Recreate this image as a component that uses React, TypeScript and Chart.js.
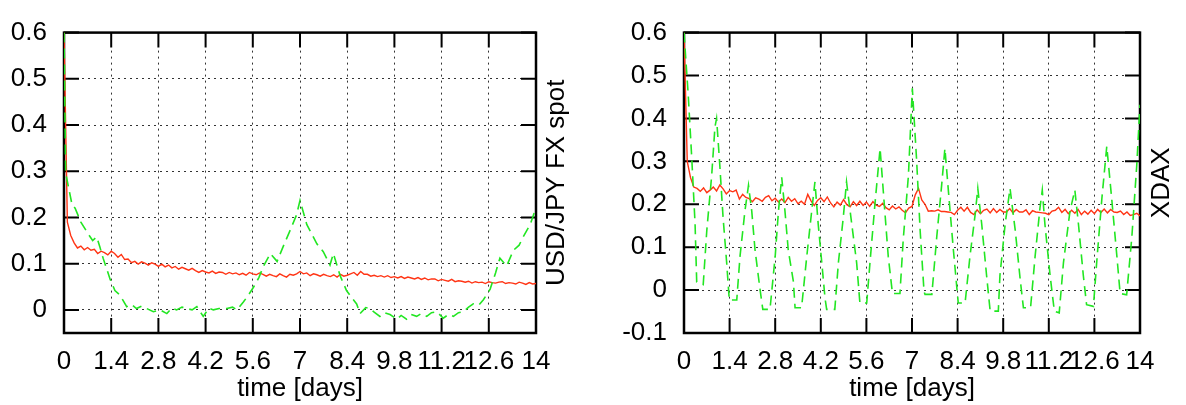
import React, { useEffect, useRef } from "react";
import { Chart, registerables } from "chart.js";

Chart.register(...registerables);

// ---------- data ----------
const RED_STEP = 0.1; // sampling step (days) of the red series
const xTickValues = [0, 1.4, 2.8, 4.2, 5.6, 7, 8.4, 9.8, 11.2, 12.6, 14];
const yTicksUsdJpy = [0, 0.1, 0.2, 0.3, 0.4, 0.5, 0.6];
const yTicksXdax = [-0.1, 0, 0.1, 0.2, 0.3, 0.4, 0.5, 0.6];

const usdJpyRed = [
  0.600, 0.190, 0.161, 0.145, 0.134, 0.138, 0.130, 0.135, 0.129, 0.131,
  0.122, 0.127, 0.124, 0.119, 0.127, 0.122, 0.114, 0.120, 0.109, 0.110,
  0.102, 0.105, 0.099, 0.104, 0.101, 0.097, 0.102, 0.099, 0.094, 0.099,
  0.093, 0.097, 0.091, 0.094, 0.088, 0.092, 0.089, 0.086, 0.090, 0.085,
  0.081, 0.085, 0.082, 0.080, 0.084, 0.079, 0.082, 0.081, 0.077, 0.081,
  0.078, 0.080, 0.076, 0.079, 0.075, 0.081, 0.078, 0.076, 0.080, 0.077,
  0.073, 0.077, 0.074, 0.072, 0.078, 0.074, 0.071, 0.077, 0.075, 0.078,
  0.083, 0.078, 0.080, 0.074, 0.078, 0.076, 0.073, 0.077, 0.074, 0.072,
  0.076, 0.071, 0.077, 0.073, 0.075, 0.078, 0.081, 0.075, 0.083, 0.077,
  0.077, 0.073, 0.075, 0.072, 0.074, 0.071, 0.074, 0.070, 0.072, 0.069,
  0.072, 0.068, 0.071, 0.069, 0.067, 0.070, 0.066, 0.069, 0.065, 0.067,
  0.067, 0.063, 0.066, 0.064, 0.062, 0.066, 0.061, 0.063, 0.062, 0.060,
  0.062, 0.058, 0.061, 0.059, 0.060, 0.057, 0.061, 0.059, 0.058, 0.060,
  0.061, 0.057, 0.059, 0.058, 0.056, 0.060, 0.058, 0.055, 0.059, 0.056,
  0.057,
];

const usdJpyGreenX = [
  0, 0.05, 0.24, 0.33, 0.5, 0.72, 0.85, 0.97, 1.06, 1.16,
  1.37, 1.51, 1.66, 1.86, 2.0, 2.15, 2.3, 2.45, 2.65, 2.85,
  3.05, 3.2, 3.34, 3.5, 3.64, 3.8, 3.94, 4.13, 4.3, 4.43,
  4.6, 4.83, 5.0, 5.13, 5.32, 5.45, 5.62, 5.78, 5.92, 6.12,
  6.32, 6.5, 6.7, 6.9, 7.0, 7.2, 7.5, 7.69, 7.89, 7.99,
  8.19, 8.38, 8.55, 8.68, 8.78, 8.95, 9.08, 9.2, 9.37, 9.5,
  9.67, 9.87, 10.0, 10.16, 10.3, 10.46, 10.6, 10.76, 10.9, 11.06,
  11.25, 11.4, 11.55, 11.7, 11.85, 12.0, 12.14, 12.3, 12.44, 12.64,
  12.8, 12.93, 13.13, 13.33, 13.5, 13.62, 13.83, 14.0,
];
const usdJpyGreenY = [
  0.6, 0.296, 0.227, 0.22, 0.19, 0.164, 0.15, 0.158, 0.137, 0.112,
  0.066, 0.042, 0.032, 0.007, 0.012, 0.003, 0.008, 0.003, -0.004, 0.0,
  -0.008, 0.004, 0.0, 0.006, 0.003, 0.0, 0.007, -0.014, 0.004, 0.0,
  0.003, 0.003, 0.006, 0.0, 0.017, 0.03, 0.049, 0.07, 0.095, 0.122,
  0.105, 0.137, 0.171, 0.206, 0.237, 0.185, 0.143, 0.126, 0.097, 0.122,
  0.074, 0.042, 0.025, 0.013, -0.008, 0.005, 0.003, -0.005, -0.014, -0.006,
  -0.01, -0.02, -0.012, -0.02, -0.01, -0.014, -0.008, -0.014, -0.006, -0.004,
  -0.018, -0.01, -0.014, -0.006, -0.004, 0.006, 0.013, 0.01, 0.022, 0.045,
  0.08, 0.112, 0.095, 0.129, 0.14, 0.158, 0.185, 0.221,
];

const xdaxRed = [
  0.600, 0.300, 0.262, 0.240, 0.237, 0.230, 0.238, 0.227, 0.233, 0.240,
  0.231, 0.245, 0.236, 0.224, 0.232, 0.229, 0.233, 0.212, 0.223, 0.216,
  0.213, 0.206, 0.215, 0.212, 0.207, 0.216, 0.220, 0.208, 0.214, 0.205,
  0.212, 0.204, 0.216, 0.207, 0.213, 0.201, 0.207, 0.200, 0.223, 0.208,
  0.197, 0.209, 0.215, 0.206, 0.217, 0.203, 0.194, 0.205, 0.198, 0.211,
  0.199, 0.194, 0.206, 0.197, 0.207, 0.197, 0.205, 0.195, 0.206, 0.198,
  0.195, 0.202, 0.192, 0.187, 0.196, 0.189, 0.194, 0.186, 0.180, 0.191,
  0.195, 0.222, 0.237, 0.210, 0.200, 0.184, 0.185, 0.184, 0.187, 0.183,
  0.183, 0.182, 0.181, 0.176, 0.186, 0.193, 0.184, 0.193, 0.181, 0.176,
  0.187, 0.178, 0.186, 0.189, 0.180, 0.190, 0.181, 0.188, 0.182, 0.182,
  0.190, 0.180, 0.188, 0.182, 0.182, 0.187, 0.176, 0.185, 0.182, 0.181,
  0.180, 0.179, 0.176, 0.184, 0.186, 0.193, 0.181, 0.188, 0.178, 0.186,
  0.179, 0.188, 0.176, 0.184, 0.177, 0.186, 0.178, 0.188, 0.181, 0.189,
  0.180, 0.188, 0.182, 0.181, 0.184, 0.176, 0.182, 0.174, 0.176, 0.179,
  0.173,
];

const xdaxGreenX = [
  0, 0.13, 0.24, 0.34, 0.39, 0.59, 0.70, 0.85, 0.95, 1.0,
  1.1, 1.2, 1.31, 1.39, 1.62, 1.72, 1.87, 1.98, 2.08, 2.18,
  2.33, 2.42, 2.64, 2.8, 2.9, 3.0, 3.1, 3.2, 3.36, 3.41,
  3.61, 3.77, 3.92, 4.02, 4.12, 4.23, 4.33, 4.38, 4.63, 4.74,
  4.89, 4.99, 5.15, 5.30, 5.40, 5.61, 5.71, 5.87, 6.02, 6.12,
  6.27, 6.40, 6.63, 6.73, 6.89, 7.01, 7.14, 7.25, 7.37, 7.40,
  7.61, 7.76, 7.91, 8.01, 8.12, 8.27, 8.37, 8.42, 8.63, 8.78,
  8.94, 9.02, 9.14, 9.29, 9.40, 9.65, 9.70, 9.86, 10.01, 10.17,
  10.32, 10.42, 10.64, 10.78, 10.93, 11.0, 11.08, 11.24, 11.37, 11.52,
  11.65, 11.85, 12.0, 12.11, 12.26, 12.36, 12.57, 12.67, 12.83, 12.98,
  13.13, 13.29, 13.39, 13.59, 13.75, 13.90, 14.0,
];
const xdaxGreenY = [
  0.6, 0.455, 0.305, 0.154, 0.019, 0.013, 0.139, 0.267, 0.38, 0.40,
  0.29, 0.169, 0.064, -0.023, -0.023, 0.079, 0.184, 0.244, 0.184, 0.094,
  0.004, -0.045, -0.045, 0.079, 0.184, 0.263, 0.184, 0.094, 0.019, -0.041,
  -0.041, 0.079, 0.184, 0.252, 0.154, 0.064, -0.019, -0.045, -0.045, 0.064,
  0.169, 0.252, 0.154, 0.064, -0.03, -0.03, 0.064, 0.207, 0.33, 0.229,
  0.079, -0.008, -0.008, 0.117, 0.267, 0.47, 0.305, 0.139, -0.004, -0.01,
  -0.01, 0.124, 0.244, 0.33, 0.229, 0.094, 0.011, -0.03, -0.03, 0.079,
  0.177, 0.237, 0.154, 0.034, -0.049, -0.049, 0.034, 0.154, 0.237, 0.139,
  0.026, -0.041, -0.041, 0.079, 0.192, 0.233, 0.154, 0.034, -0.049, -0.053,
  0.064, 0.184, 0.233, 0.154, 0.034, -0.034, -0.038, 0.064, 0.214, 0.335,
  0.214, 0.079, -0.008, -0.011, 0.124, 0.29, 0.432,
];

// ---------- styling ----------
const FONT = '"Liberation Sans", Arial, Helvetica, sans-serif';
const FONT_SIZE = 26;
const RED = "#ff3414";
const GREEN = "#22e622";
const GRID = "rgba(0,0,0,0.8)";

const framePlugin = {
  id: "frame",
  beforeDatasetsDraw(chart: any, _args: any, opts: any) {
    const { ctx, chartArea: a, scales } = chart;
    ctx.save();
    ctx.strokeStyle = "#000";
    ctx.lineWidth = 2;
    const L = 15;
    ctx.beginPath();
    for (const v of opts.xTicks) {
      const px = scales.x.getPixelForValue(v);
      ctx.moveTo(px, a.bottom);
      ctx.lineTo(px, a.bottom - L);
      ctx.moveTo(px, a.top);
      ctx.lineTo(px, a.top + L);
    }
    for (const v of opts.yTicks) {
      const py = scales.y.getPixelForValue(v);
      ctx.moveTo(a.left, py);
      ctx.lineTo(a.left + L, py);
      ctx.moveTo(a.right, py);
      ctx.lineTo(a.right - L, py);
    }
    ctx.stroke();
    ctx.lineWidth = 2.5;
    ctx.strokeRect(a.left, a.top, a.right - a.left, a.bottom - a.top);
    ctx.restore();
  },
  afterDraw(chart: any, _args: any, opts: any) {
    const { ctx, chartArea: a } = chart;
    ctx.save();
    ctx.translate(opts.titleX, (a.top + a.bottom) / 2);
    ctx.rotate(-Math.PI / 2);
    ctx.font = `${FONT_SIZE}px ${FONT}`;
    ctx.fillStyle = "#000";
    ctx.textAlign = "center";
    ctx.textBaseline = "middle";
    ctx.fillText(opts.title, 0, 0);
    ctx.restore();
  },
};

const fmt = (v: number) => (Math.abs(v) < 1e-9 ? "0" : String(+v.toFixed(1)));

type PanelProps = {
  left: number;
  red: number[];
  greenX: number[];
  greenY: number[];
  yMin: number;
  yMax: number;
  yTicks: number[];
  title: string;
  axisWidth: number;
  padRight: number;
  titleX: number;
};

function Panel(p: PanelProps) {
  const ref = useRef<HTMLCanvasElement>(null);
  useEffect(() => {
    if (!ref.current) return;
    const redData = p.red.map((y, i) => ({ x: +(i * RED_STEP).toFixed(2), y }));
    const greenData = p.greenX.map((x, i) => ({ x, y: p.greenY[i] }));
    const chart = new Chart(ref.current, {
      type: "line",
      data: {
        datasets: [
          {
            data: greenData,
            borderColor: GREEN,
            borderWidth: 1.6,
            borderDash: [10, 6],
            pointRadius: 0,
            tension: 0,
            fill: false,
          },
          {
            data: redData,
            borderColor: RED,
            borderWidth: 1.4,
            pointRadius: 0,
            tension: 0,
            fill: false,
          },
        ],
      },
      options: {
        animation: false,
        responsive: false,
        events: [],
        layout: { padding: { top: 22, right: p.padRight, left: 0, bottom: 0 } },
        plugins: {
          legend: { display: false },
          tooltip: { enabled: false },
          frame: { xTicks: xTickValues, yTicks: p.yTicks, title: p.title, titleX: p.titleX },
        } as any,
        scales: {
          x: {
            type: "linear",
            min: 0,
            max: 14,
            afterBuildTicks: (s: any) => {
              s.ticks = xTickValues.map((v) => ({ value: v }));
            },
            afterFit: (s: any) => {
              s.height = 72;
            },
            border: { display: false, dash: [2, 4] },
            grid: { drawTicks: false, color: GRID, lineWidth: 1 },
            ticks: {
              autoSkip: false,
              maxRotation: 0,
              minRotation: 0,
              padding: 13,
              color: "#000",
              font: { family: FONT, size: FONT_SIZE },
              callback: (v: any) => fmt(Number(v)),
            },
            title: {
              display: true,
              text: "time [days]",
              color: "#000",
              font: { family: FONT, size: FONT_SIZE },
              padding: { top: 0, bottom: 1 },
            },
          },
          y: {
            type: "linear",
            min: p.yMin,
            max: p.yMax,
            afterBuildTicks: (s: any) => {
              s.ticks = p.yTicks.map((v) => ({ value: v }));
            },
            afterFit: (s: any) => {
              s.width = p.axisWidth;
            },
            border: { display: false, dash: [2, 4] },
            grid: { drawTicks: false, color: GRID, lineWidth: 1 },
            ticks: {
              padding: 17,
              color: "#000",
              font: { family: FONT, size: FONT_SIZE },
              callback: (v: any) => fmt(Number(v)),
            },
          },
        },
      } as any,
      plugins: [framePlugin as any],
    });
    return () => chart.destroy();
  }, []);
  return (
    <canvas
      ref={ref}
      width={593}
      height={405}
      style={{ position: "absolute", left: p.left, top: 0, width: 593, height: 405, display: "block" }}
    />
  );
}

export default function App() {
  return (
    <div style={{ position: "absolute", left: 0, top: 0, width: 1186, height: 405, background: "#fff" }}>
      <Panel
        left={0}
        red={usdJpyRed}
        greenX={usdJpyGreenX}
        greenY={usdJpyGreenY}
        yMin={-0.05}
        yMax={0.6}
        yTicks={yTicksUsdJpy}
        title="USD/JPY FX spot"
        axisWidth={64}
        padRight={57}
        titleX={557}
      />
      <Panel
        left={593}
        red={xdaxRed}
        greenX={xdaxGreenX}
        greenY={xdaxGreenY}
        yMin={-0.1}
        yMax={0.6}
        yTicks={yTicksXdax}
        title="XDAX"
        axisWidth={91}
        padRight={46}
        titleX={569}
      />
    </div>
  );
}
